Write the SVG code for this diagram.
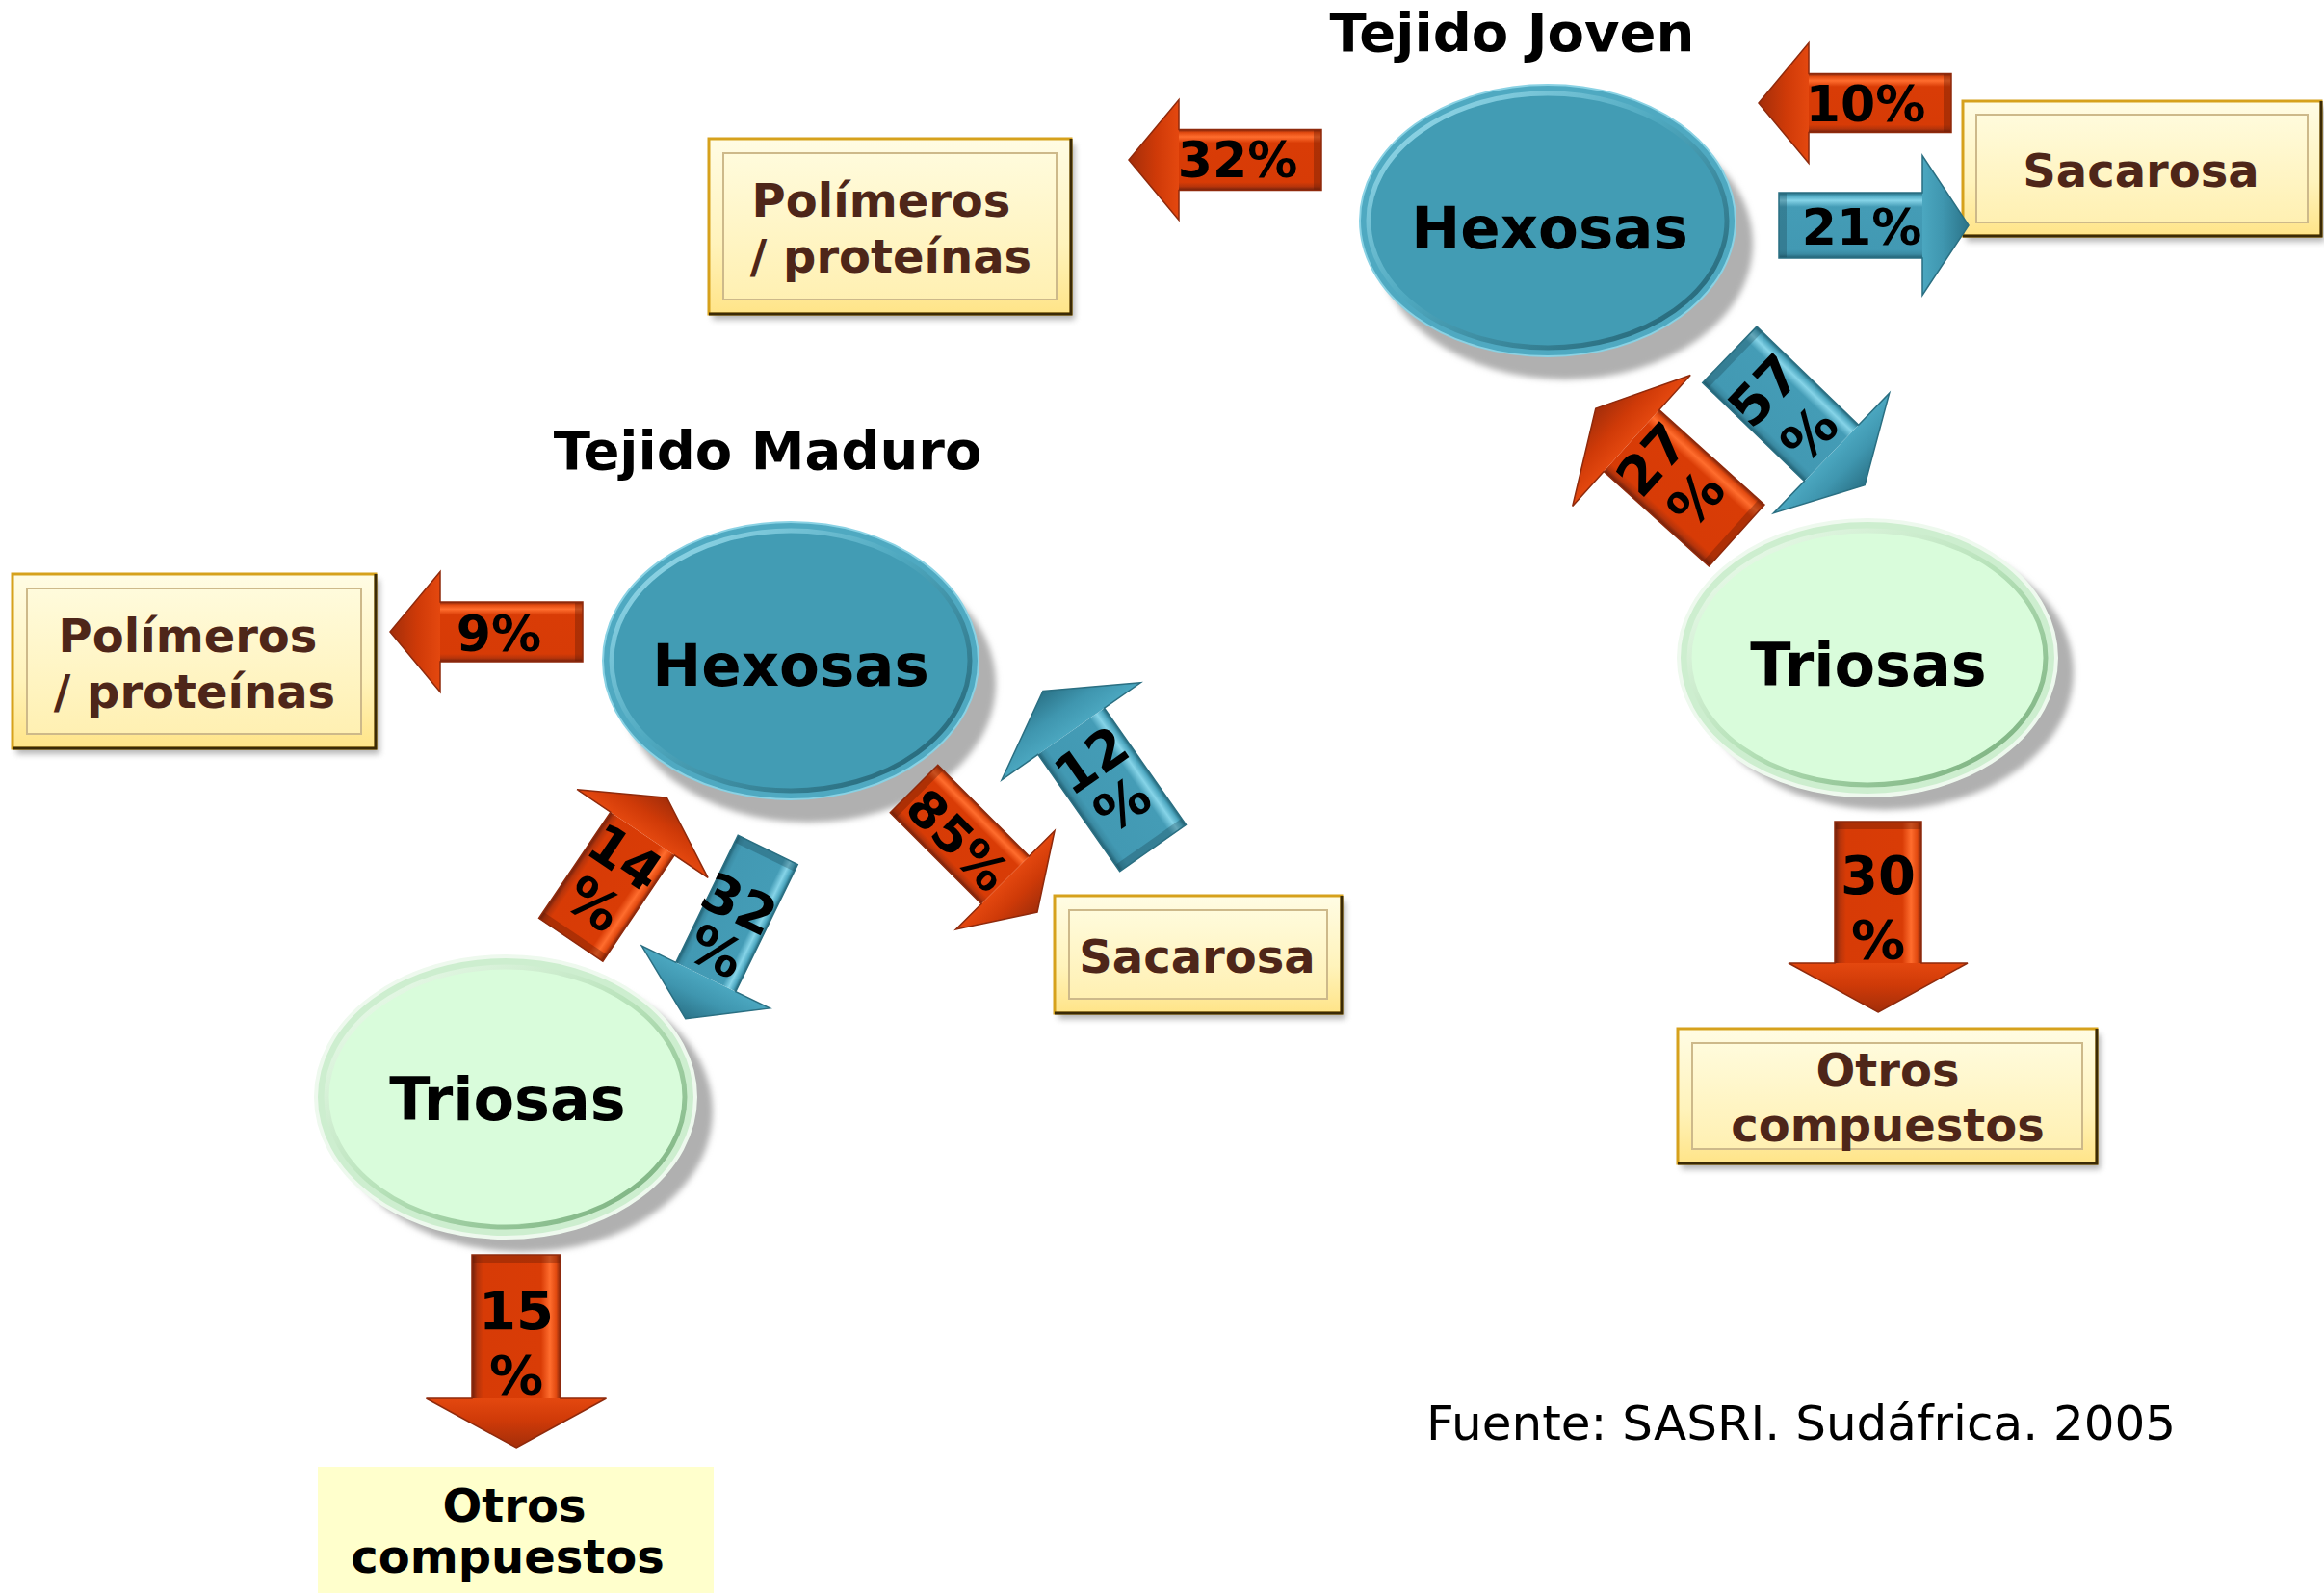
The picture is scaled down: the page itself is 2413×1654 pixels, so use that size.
<svg xmlns="http://www.w3.org/2000/svg" width="2413" height="1654" viewBox="0 0 2413 1654">
  <defs>
    <style>
      text { font-family: "DejaVu Sans", Verdana, sans-serif; font-weight: bold; }
      .title { font-size: 56px; fill: #000; text-anchor: middle; }
      .ell-label { font-size: 61px; fill: #000; text-anchor: middle; }
      .tri-label { font-size: 62px; fill: #000; text-anchor: middle; }
      .box-label { font-size: 48px; fill: #4e2619; text-anchor: middle; }
      .plain-label { font-size: 48px; fill: #000; text-anchor: middle; }
      .pct { font-size: 52px; fill: #000; text-anchor: middle; }
      .pct2 { font-size: 56px; fill: #000; text-anchor: middle; }
      .src { font-weight: normal; font-size: 50px; fill: #000; }
      .shadow { fill: #b0b0b0; filter: url(#blur3); }
      .box-shadow { fill: #7a7a7a; opacity: 0.55; filter: url(#blur3); }
      .box-outer { fill: url(#boxFill); stroke: #d6a11c; stroke-width: 3; }
      .box-inner { fill: url(#boxInner); stroke: #cdb98a; stroke-width: 2; }
      .box-edge { fill: none; stroke: #3b2a05; stroke-width: 3; }
      .hex-outer { fill: #4fa9c1; stroke: #8ad2e4; stroke-width: 2; }
      .hex-inner { fill: #429cb4; stroke: url(#hexRim); stroke-width: 5; }
      .tri-outer { fill: #cdeecf; stroke: #eef9ee; stroke-width: 4; }
      .tri-inner { fill: #d9fcdb; stroke: url(#triRim); stroke-width: 5; }
      .red .body { fill: url(#redBody); }
      .red .head { fill: url(#redHead); }
      .red .edge { fill: none; stroke: #8f2a0c; stroke-width: 1.5; }
      .red .tail { fill: #5e1a07; opacity: 0.35; }
      .blue .body { fill: url(#blueBody); }
      .blue .head { fill: url(#blueHead); }
      .blue .edge { fill: none; stroke: #2a6f82; stroke-width: 1.5; }
      .blue .tail { fill: #163f4b; opacity: 0.3; }
    </style>
    <filter id="blur3" x="-10%" y="-10%" width="120%" height="120%"><feGaussianBlur stdDeviation="3"/></filter>
    <linearGradient id="boxFill" x1="0" y1="0" x2="0" y2="1">
      <stop offset="0" stop-color="#fffce4"/>
      <stop offset="0.6" stop-color="#fff3bb"/>
      <stop offset="1" stop-color="#ffe488"/>
    </linearGradient>
    <linearGradient id="boxInner" x1="0" y1="0" x2="0" y2="1">
      <stop offset="0" stop-color="#fffbdc"/>
      <stop offset="1" stop-color="#fff0b2"/>
    </linearGradient>
    <linearGradient id="hexRim" x1="0" y1="0" x2="1" y2="1">
      <stop offset="0" stop-color="#a3e2f1"/>
      <stop offset="0.45" stop-color="#4fa9c0"/>
      <stop offset="1" stop-color="#1d5969"/>
    </linearGradient>
    <linearGradient id="triRim" x1="0" y1="0" x2="1" y2="1">
      <stop offset="0" stop-color="#f4fff4"/>
      <stop offset="0.5" stop-color="#b7e2b9"/>
      <stop offset="1" stop-color="#6fa774"/>
    </linearGradient>
    <linearGradient id="redBody" x1="0" y1="0" x2="1" y2="0">
      <stop offset="0" stop-color="#6e200d"/>
      <stop offset="0.06" stop-color="#b5340b"/>
      <stop offset="0.13" stop-color="#d73b06"/>
      <stop offset="0.78" stop-color="#d93c06"/>
      <stop offset="0.88" stop-color="#ff6d2e"/>
      <stop offset="0.95" stop-color="#e24a10"/>
      <stop offset="1" stop-color="#7e250c"/>
    </linearGradient>
    <linearGradient id="redHead" x1="0" y1="0" x2="0" y2="1">
      <stop offset="0" stop-color="#a32e0a"/>
      <stop offset="0.55" stop-color="#cf3a08"/>
      <stop offset="1" stop-color="#e4480f"/>
    </linearGradient>
    <linearGradient id="blueBody" x1="0" y1="0" x2="1" y2="0">
      <stop offset="0" stop-color="#215f72"/>
      <stop offset="0.06" stop-color="#3a8aa2"/>
      <stop offset="0.13" stop-color="#4299b3"/>
      <stop offset="0.78" stop-color="#449cb6"/>
      <stop offset="0.88" stop-color="#86d4e8"/>
      <stop offset="0.95" stop-color="#4ea8c1"/>
      <stop offset="1" stop-color="#24677a"/>
    </linearGradient>
    <linearGradient id="blueHead" x1="0" y1="0" x2="0" y2="1">
      <stop offset="0" stop-color="#2b7388"/>
      <stop offset="0.55" stop-color="#3f96af"/>
      <stop offset="1" stop-color="#4ba7c0"/>
    </linearGradient>
  </defs>

  <rect width="2413" height="1654" fill="#ffffff"/>

  <!-- titles -->
  <text class="title" x="1570" y="53">Tejido Joven</text>
  <text class="title" x="797" y="487">Tejido Maduro</text>

  <!-- ===== young tissue nodes ===== -->
  <g id="hexosas-joven">
    <ellipse class="shadow" cx="1625" cy="253" rx="195" ry="141"/>
    <ellipse class="hex-outer" cx="1607" cy="229" rx="195" ry="141"/>
    <ellipse class="hex-inner" cx="1607" cy="229" rx="186" ry="132"/>
    <text class="ell-label" x="1609" y="258">Hexosas</text>
  </g>

  <g id="triosas-joven">
    <ellipse class="shadow" cx="1957" cy="698" rx="196" ry="143"/>
    <ellipse class="tri-outer" cx="1939" cy="683" rx="196" ry="143"/>
    <ellipse class="tri-inner" cx="1939" cy="683" rx="185" ry="132"/>
    <text class="tri-label" x="1940" y="712">Triosas</text>
  </g>

  <g id="polimeros-joven">
    <rect class="box-shadow" x="740" y="150" width="376" height="182"/>
    <rect class="box-outer" x="736" y="144" width="376" height="182"/>
    <rect class="box-inner" x="751" y="159" width="346" height="152"/>
    <polyline class="box-edge" points="1112,144 1112,326 736,326"/>
    <text class="box-label" x="915" y="225">Polímeros</text>
    <text class="box-label" x="925" y="283">/ proteínas</text>
  </g>

  <g id="sacarosa-joven">
    <rect class="box-shadow" x="2042" y="111" width="372" height="140"/>
    <rect class="box-outer" x="2038" y="105" width="372" height="140"/>
    <rect class="box-inner" x="2052" y="119" width="344" height="112"/>
    <polyline class="box-edge" points="2410,105 2410,245 2038,245"/>
    <text class="box-label" x="2223" y="194">Sacarosa</text>
  </g>

  <g id="otros-joven">
    <rect class="box-shadow" x="1746" y="1074" width="435" height="140"/>
    <rect class="box-outer" x="1742" y="1068" width="435" height="140"/>
    <rect class="box-inner" x="1757" y="1083" width="405" height="110"/>
    <polyline class="box-edge" points="2177,1068 2177,1208 1742,1208"/>
    <text class="box-label" x="1960" y="1128">Otros</text>
    <text class="box-label" x="1960" y="1185">compuestos</text>
  </g>

  <!-- ===== mature tissue nodes ===== -->
  <g id="hexosas-maduro">
    <ellipse class="shadow" cx="839" cy="710" rx="195" ry="144"/>
    <ellipse class="hex-outer" cx="821" cy="686" rx="195" ry="144"/>
    <ellipse class="hex-inner" cx="821" cy="686" rx="186" ry="135"/>
    <text class="ell-label" x="821" y="712">Hexosas</text>
  </g>

  <g id="triosas-maduro">
    <ellipse class="shadow" cx="543" cy="1154" rx="197" ry="146"/>
    <ellipse class="tri-outer" cx="525" cy="1139" rx="197" ry="146"/>
    <ellipse class="tri-inner" cx="525" cy="1139" rx="186" ry="135"/>
    <text class="tri-label" x="527" y="1163">Triosas</text>
  </g>

  <g id="polimeros-maduro">
    <rect class="box-shadow" x="17" y="602" width="377" height="181"/>
    <rect class="box-outer" x="13" y="596" width="377" height="181"/>
    <rect class="box-inner" x="28" y="611" width="347" height="151"/>
    <polyline class="box-edge" points="390,596 390,777 13,777"/>
    <text class="box-label" x="195" y="677">Polímeros</text>
    <text class="box-label" x="202" y="735">/ proteínas</text>
  </g>

  <g id="sacarosa-maduro">
    <rect class="box-shadow" x="1099" y="936" width="298" height="122"/>
    <rect class="box-outer" x="1095" y="930" width="298" height="122"/>
    <rect class="box-inner" x="1110" y="945" width="268" height="92"/>
    <polyline class="box-edge" points="1393,930 1393,1052 1095,1052"/>
    <text class="box-label" x="1243" y="1010">Sacarosa</text>
  </g>

  <g id="otros-maduro">
    <rect x="330" y="1523" width="411" height="140" fill="#ffffcc"/>
    <text class="plain-label" x="534" y="1580">Otros</text>
    <text class="plain-label" x="527" y="1633">compuestos</text>
  </g>

  <!-- ===== flux arrows (drawn as up-arrows in local space, then placed) ===== -->
  <g id="connectors">
    <!-- young: hexosas -> polimeros 32% -->
    <g class="red" transform="translate(1272,166) rotate(-90)">
      <rect class="body" x="-31.5" y="-48" width="63" height="148"/>
      <polygon class="head" points="0,-100 62.5,-48 -62.5,-48"/>
      <rect class="tail" x="-31.5" y="92" width="63" height="8"/>
      <path class="edge" d="M0,-100 L62.5,-48 L31.5,-48 L31.5,100 L-31.5,100 L-31.5,-48 L-62.5,-48 Z"/>
    </g>
    <text class="pct" x="1285" y="184">32%</text>

    <!-- young: sacarosa -> hexosas 10% -->
    <g class="red" transform="translate(1926,107) rotate(-90)">
      <rect class="body" x="-30.5" y="-48" width="61" height="148"/>
      <polygon class="head" points="0,-100 62.5,-48 -62.5,-48"/>
      <rect class="tail" x="-30.5" y="92" width="61" height="8"/>
      <path class="edge" d="M0,-100 L62.5,-48 L30.5,-48 L30.5,100 L-30.5,100 L-30.5,-48 L-62.5,-48 Z"/>
    </g>
    <text class="pct" x="1937" y="126">10%</text>

    <!-- young: hexosas -> sacarosa 21% -->
    <g class="blue" transform="translate(1945.5,234) rotate(90) scale(-1,1)">
      <rect class="body" x="-34" y="-50.5" width="68" height="149"/>
      <polygon class="head" points="0,-98.5 72.5,-50.5 -72.5,-50.5"/>
      <rect class="tail" x="-34" y="90.5" width="68" height="8"/>
      <path class="edge" d="M0,-98.5 L72.5,-50.5 L34,-50.5 L34,98.5 L-34,98.5 L-34,-50.5 L-72.5,-50.5 Z"/>
    </g>
    <text class="pct" x="1933" y="254">21%</text>

    <!-- young: hexosas -> triosas 57% -->
    <g class="blue" transform="translate(1866,436) rotate(-46) scale(1,-1)">
      <rect class="body" x="-40.5" y="-49.5" width="81" height="147"/>
      <polygon class="head" points="0,-97.5 86.5,-49.5 -86.5,-49.5"/>
      <rect class="tail" x="-40.5" y="89.5" width="81" height="8"/>
      <path class="edge" d="M0,-97.5 L86.5,-49.5 L40.5,-49.5 L40.5,97.5 L-40.5,97.5 L-40.5,-49.5 L-86.5,-49.5 Z"/>
    </g>
    <g transform="translate(1854.5,427.5) rotate(-46)">
      <text class="pct2" x="0" y="-12">57</text>
      <text class="pct2" x="0" y="53">%</text>
    </g>

    <!-- young: triosas -> hexosas 27% -->
    <g class="red" transform="translate(1730,490) rotate(-48)">
      <rect class="body" x="-43" y="-48.5" width="86" height="147"/>
      <polygon class="head" points="0,-98.5 91.5,-48.5 -91.5,-48.5"/>
      <rect class="tail" x="-43" y="90.5" width="86" height="8"/>
      <path class="edge" d="M0,-98.5 L91.5,-48.5 L43,-48.5 L43,98.5 L-43,98.5 L-43,-48.5 L-91.5,-48.5 Z"/>
    </g>
    <g transform="translate(1737.5,497) rotate(-48)">
      <text class="pct2" x="0" y="-10">27</text>
      <text class="pct2" x="0" y="51">%</text>
    </g>

    <!-- young: triosas -> otros compuestos 30% -->
    <g class="red" transform="translate(1950,952) scale(1,-1)">
      <rect class="body" x="-45" y="-48" width="90" height="147"/>
      <polygon class="head" points="0,-99 93,-48 -93,-48"/>
      <rect class="tail" x="-45" y="91" width="90" height="8"/>
      <path class="edge" d="M0,-99 L93,-48 L45,-48 L45,99 L-45,99 L-45,-48 L-93,-48 Z"/>
    </g>
    <text class="pct2" x="1950" y="928">30</text>
    <text class="pct2" x="1950" y="995">%</text>

    <!-- mature: hexosas -> polimeros 9% -->
    <g class="red" transform="translate(505,656) rotate(-90)">
      <rect class="body" x="-31" y="-48" width="62" height="148"/>
      <polygon class="head" points="0,-100 62.5,-48 -62.5,-48"/>
      <rect class="tail" x="-31" y="92" width="62" height="8"/>
      <path class="edge" d="M0,-100 L62.5,-48 L31,-48 L31,100 L-31,100 L-31,-48 L-62.5,-48 Z"/>
    </g>
    <text class="pct" x="518" y="676">9%</text>

    <!-- mature: triosas -> hexosas 14% -->
    <g class="red" transform="translate(642.5,902) rotate(34)">
      <rect class="body" x="-40" y="-44" width="80" height="133"/>
      <polygon class="head" points="0,-89 82,-44 -82,-44"/>
      <rect class="tail" x="-40" y="81" width="80" height="8"/>
      <path class="edge" d="M0,-89 L82,-44 L40,-44 L40,89 L-40,89 L-40,-44 L-82,-44 Z"/>
    </g>
    <g transform="translate(633,914) rotate(34)">
      <text class="pct2" x="0" y="-9">14</text>
      <text class="pct2" x="0" y="49">%</text>
    </g>

    <!-- mature: hexosas -> triosas 32% -->
    <g class="blue" transform="translate(754.5,970) rotate(26) scale(1,-1)">
      <rect class="body" x="-34.5" y="-49.5" width="69" height="147"/>
      <polygon class="head" points="0,-97.5 74,-49.5 -74,-49.5"/>
      <rect class="tail" x="-34.5" y="89.5" width="69" height="8"/>
      <path class="edge" d="M0,-97.5 L74,-49.5 L34.5,-49.5 L34.5,97.5 L-34.5,97.5 L-34.5,-49.5 L-74,-49.5 Z"/>
    </g>
    <g transform="translate(756,962.5) rotate(26)">
      <text class="pct2" x="0" y="-7">32</text>
      <text class="pct2" x="0" y="48">%</text>
    </g>

    <!-- mature: hexosas -> sacarosa 85% -->
    <g class="red" transform="translate(1013,883) rotate(-45) scale(1,-1)">
      <rect class="body" x="-35" y="-43.5" width="70" height="134"/>
      <polygon class="head" points="0,-90.5 72.5,-43.5 -72.5,-43.5"/>
      <rect class="tail" x="-35" y="82.5" width="70" height="8"/>
      <path class="edge" d="M0,-90.5 L72.5,-43.5 L35,-43.5 L35,90.5 L-35,90.5 L-35,-43.5 L-72.5,-43.5 Z"/>
    </g>
    <text class="pct" transform="translate(995,872) rotate(45)" x="0" y="19">85%</text>

    <!-- mature: sacarosa -> hexosas 12% -->
    <g class="blue" transform="translate(1140,799) rotate(-35)">
      <rect class="body" x="-42" y="-48.5" width="84" height="148"/>
      <polygon class="head" points="0,-99.5 88,-48.5 -88,-48.5"/>
      <rect class="tail" x="-42" y="91.5" width="84" height="8"/>
      <path class="edge" d="M0,-99.5 L88,-48.5 L42,-48.5 L42,99.5 L-42,99.5 L-42,-48.5 L-88,-48.5 Z"/>
    </g>
    <g transform="translate(1149,812) rotate(-35)">
      <text class="pct2" x="0" y="-8">12</text>
      <text class="pct2" x="0" y="48">%</text>
    </g>

    <!-- mature: triosas -> otros compuestos 15% -->
    <g class="red" transform="translate(536,1403) scale(1,-1)">
      <rect class="body" x="-46" y="-49" width="92" height="149"/>
      <polygon class="head" points="0,-100 93.5,-49 -93.5,-49"/>
      <rect class="tail" x="-46" y="92" width="92" height="8"/>
      <path class="edge" d="M0,-100 L93.5,-49 L46,-49 L46,100 L-46,100 L-46,-49 L-93.5,-49 Z"/>
    </g>
    <text class="pct2" x="536" y="1380">15</text>
    <text class="pct2" x="536" y="1447">%</text>
  </g>

  <!-- source note -->
  <text class="src" x="1481" y="1495">Fuente: SASRI. Sudáfrica. 2005</text>
</svg>
